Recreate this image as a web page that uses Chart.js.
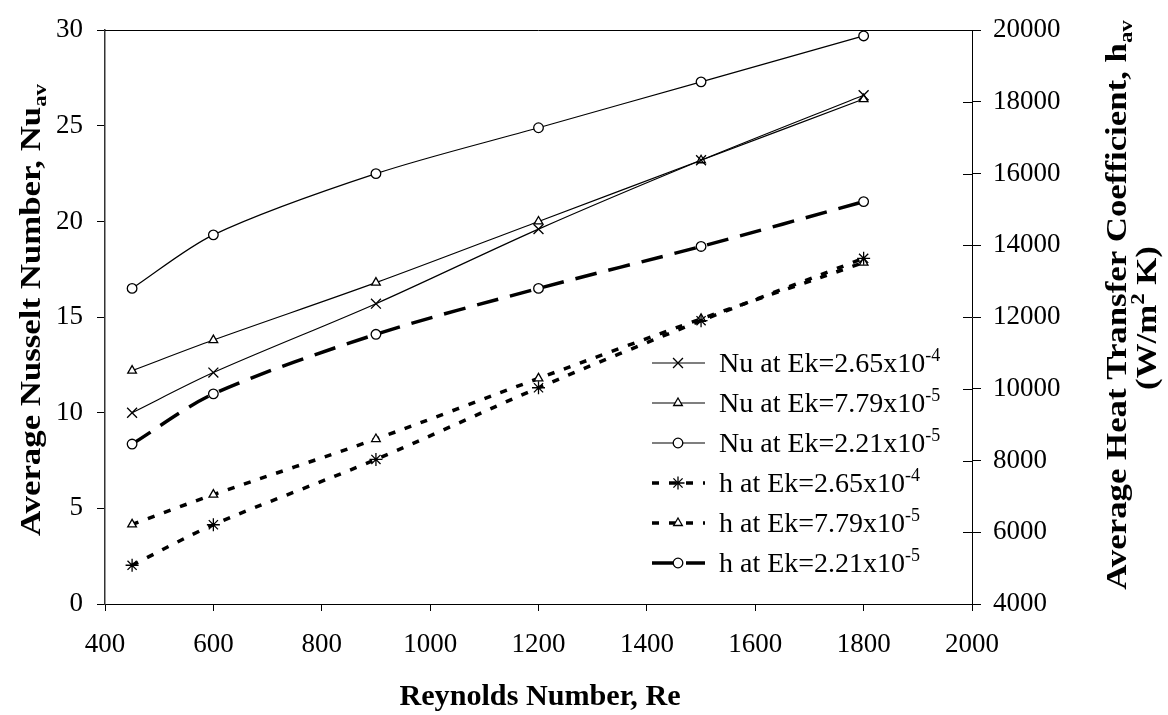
<!DOCTYPE html>
<html>
<head>
<meta charset="utf-8">
<script src="https://cdn.jsdelivr.net/npm/chart.js@4/dist/chart.umd.min.js"></script>
<style>
  body { margin: 0; background: #fff; }
  #wrap { width: 1168px; height: 715px; }
</style>
</head>
<body>
<div id="wrap"><canvas id="chart" width="1168" height="715"></canvas></div>
<script>
// Reynolds numbers (x axis)
const reynolds = [450, 600, 900, 1200, 1500, 1800];

// average Nusselt number (left axis)
const nuEk265 = [10.0, 12.1, 15.7, 19.6, 23.2, 26.6];
const nuEk779 = [12.2, 13.8, 16.8, 20.0, 23.2, 26.4];
const nuEk221 = [16.5, 19.3, 22.5, 24.9, 27.3, 29.7];

// average heat transfer coefficient, W/m2K (right axis)
const hEk265 = [5080, 6210, 8030, 10030, 11900, 13640];
const hEk779 = [6220, 7050, 8600, 10290, 11950, 13520];
const hEk221 = [8460, 9860, 11520, 12800, 13970, 15220];

// legend text, base + exponent (drawn as superscript)
const legendBase = ['Nu at Ek=2.65x10', 'Nu at Ek=7.79x10', 'Nu at Ek=2.21x10',
                    'h at Ek=2.65x10', 'h at Ek=7.79x10', 'h at Ek=2.21x10'];
const legendExp = ['-4', '-5', '-5', '-4', '-5', '-5'];

const SERIF = '"Liberation Serif", "Times New Roman", serif';
Chart.defaults.font.family = SERIF;
Chart.defaults.color = '#000';

function pts(ys) {
  return reynolds.map((x, i) => ({ x: x, y: ys[i] }));
}

function series(i, ys, axis, style, radius, width, dash) {
  return {
    label: legendBase[i] + legendExp[i],
    data: pts(ys),
    yAxisID: axis,
    borderColor: '#000',
    borderWidth: width,
    borderDash: dash,
    backgroundColor: '#fff',
    pointStyle: style,
    pointRadius: radius,
    pointHoverRadius: radius,
    pointBorderWidth: 1.3,
    pointBorderColor: '#000',
    pointBackgroundColor: '#fff',
    tension: 0.3,
    fill: false
  };
}

const datasets = [
  series(0, nuEk265, 'y', 'crossRot', 7, 1.2, []),
  series(1, nuEk779, 'y', 'triangle', 5, 1.2, []),
  series(2, nuEk221, 'y', 'circle', 4.8, 1.2, []),
  series(3, hEk265, 'y2', 'star', 6.5, 3.5, [7, 10]),
  series(4, hEk779, 'y2', 'triangle', 5, 3.5, [7, 10]),
  series(5, hEk221, 'y2', 'circle', 4.8, 3.5, [22, 12])
];

// text with sub/superscripts: parts = [[text, size, dy]]
function richText(ctx, parts, x, y, bold, align) {
  const weight = bold ? 'bold ' : '';
  let total = 0;
  parts.forEach(p => { ctx.font = weight + p[1] + 'px ' + SERIF; total += ctx.measureText(p[0]).width; });
  let cx = align === 'center' ? x - total / 2 : x;
  ctx.textAlign = 'left';
  ctx.textBaseline = 'alphabetic';
  parts.forEach(p => {
    ctx.font = weight + p[1] + 'px ' + SERIF;
    ctx.fillText(p[0], cx, y + (p[2] || 0));
    cx += ctx.measureText(p[0]).width;
  });
}

function vTitle(ctx, parts, x, y, stretch) {
  ctx.save();
  ctx.translate(x, y);
  ctx.rotate(-Math.PI / 2);
  ctx.scale(stretch, 1);
  richText(ctx, parts, 0, 10, true, 'center');
  ctx.restore();
}

const plain = v => String(v);

const decor = {
  id: 'decor',
  afterDraw(chart) {
    const ctx = chart.ctx, a = chart.chartArea;
    ctx.save();
    ctx.strokeStyle = '#000';
    ctx.fillStyle = '#000';
    ctx.lineWidth = 1;

    // top frame line and inner ticks of the right axis
    ctx.beginPath();
    ctx.moveTo(a.left, Math.round(a.top) + 0.5);
    ctx.lineTo(a.right, Math.round(a.top) + 0.5);
    const y2 = chart.scales.y2;
    y2.ticks.forEach(t => {
      const py = Math.round(y2.getPixelForValue(t.value)) + 0.5;
      ctx.moveTo(a.right - 9, py);
      ctx.lineTo(a.right, py);
    });
    ctx.stroke();

    // axis titles
    ctx.save();
    ctx.translate(540, 0);
    ctx.scale(1.04, 1);
    richText(ctx, [['Reynolds Number, Re', 29]], 0, 705, true, 'center');
    ctx.restore();

    vTitle(ctx, [['Average Nusselt Number, Nu', 29], ['av', 19, 6]], 30, 310, 1.2);
    vTitle(ctx, [['Average Heat Transfer Coefficient, h', 29], ['av', 19, 6]], 1116, 305, 1.2);
    vTitle(ctx, [['(W/m', 29], ['2', 19, -12], [' K)', 29]], 1146, 318, 1.2);

    // legend
    chart.data.datasets.forEach((ds, i) => {
      const ly = 363 + 40 * i;
      ctx.save();
      ctx.lineWidth = ds.borderWidth;
      ctx.setLineDash(ds.borderDash);
      ctx.beginPath();
      ctx.moveTo(652, ly);
      ctx.lineTo(705, ly);
      ctx.stroke();
      ctx.setLineDash([]);
      ctx.lineWidth = ds.pointBorderWidth;
      ctx.fillStyle = '#fff';
      Chart.helpers.drawPoint(ctx, {
        pointStyle: ds.pointStyle, radius: ds.pointRadius, rotation: 0, borderWidth: ds.pointBorderWidth
      }, 678, ly);
      ctx.restore();
      richText(ctx, [[legendBase[i], 28], [legendExp[i], 18, -11]], 719, ly + 9, false, 'left');
    });
    ctx.restore();
  }
};

new Chart(document.getElementById('chart'), {
  type: 'line',
  data: { datasets: datasets },
  plugins: [decor],
  options: {
    responsive: false,
    animation: false,
    devicePixelRatio: 1,
    layout: { padding: { top: 20, left: 0, right: 0, bottom: 0 } },
    plugins: { legend: { display: false }, tooltip: { enabled: false } },
    scales: {
      x: {
        type: 'linear',
        min: 400, max: 2000,
        afterFit: s => { s.height = 111; },
        ticks: { stepSize: 200, font: { size: 27 }, padding: 18, color: '#000', maxRotation: 0, callback: plain },
        grid: { drawOnChartArea: false, tickLength: 7, tickColor: '#000' },
        border: { color: '#000', width: 1 }
      },
      y: {
        position: 'left',
        min: 0, max: 30,
        afterFit: s => { s.width = 105; },
        ticks: { stepSize: 5, font: { size: 27 }, padding: 14, color: '#000', callback: plain },
        grid: { drawOnChartArea: false, tickLength: 8, tickColor: '#000' },
        border: { color: '#333', width: 1.5 }
      },
      y2: {
        position: 'right',
        min: 4000, max: 20000,
        afterFit: s => { s.width = 196; },
        ticks: { stepSize: 2000, font: { size: 27 }, padding: 12, color: '#000', callback: plain },
        grid: { drawOnChartArea: false, tickLength: 9, tickColor: '#000' },
        border: { color: '#000', width: 1 }
      }
    }
  }
});
</script>
</body>
</html>
